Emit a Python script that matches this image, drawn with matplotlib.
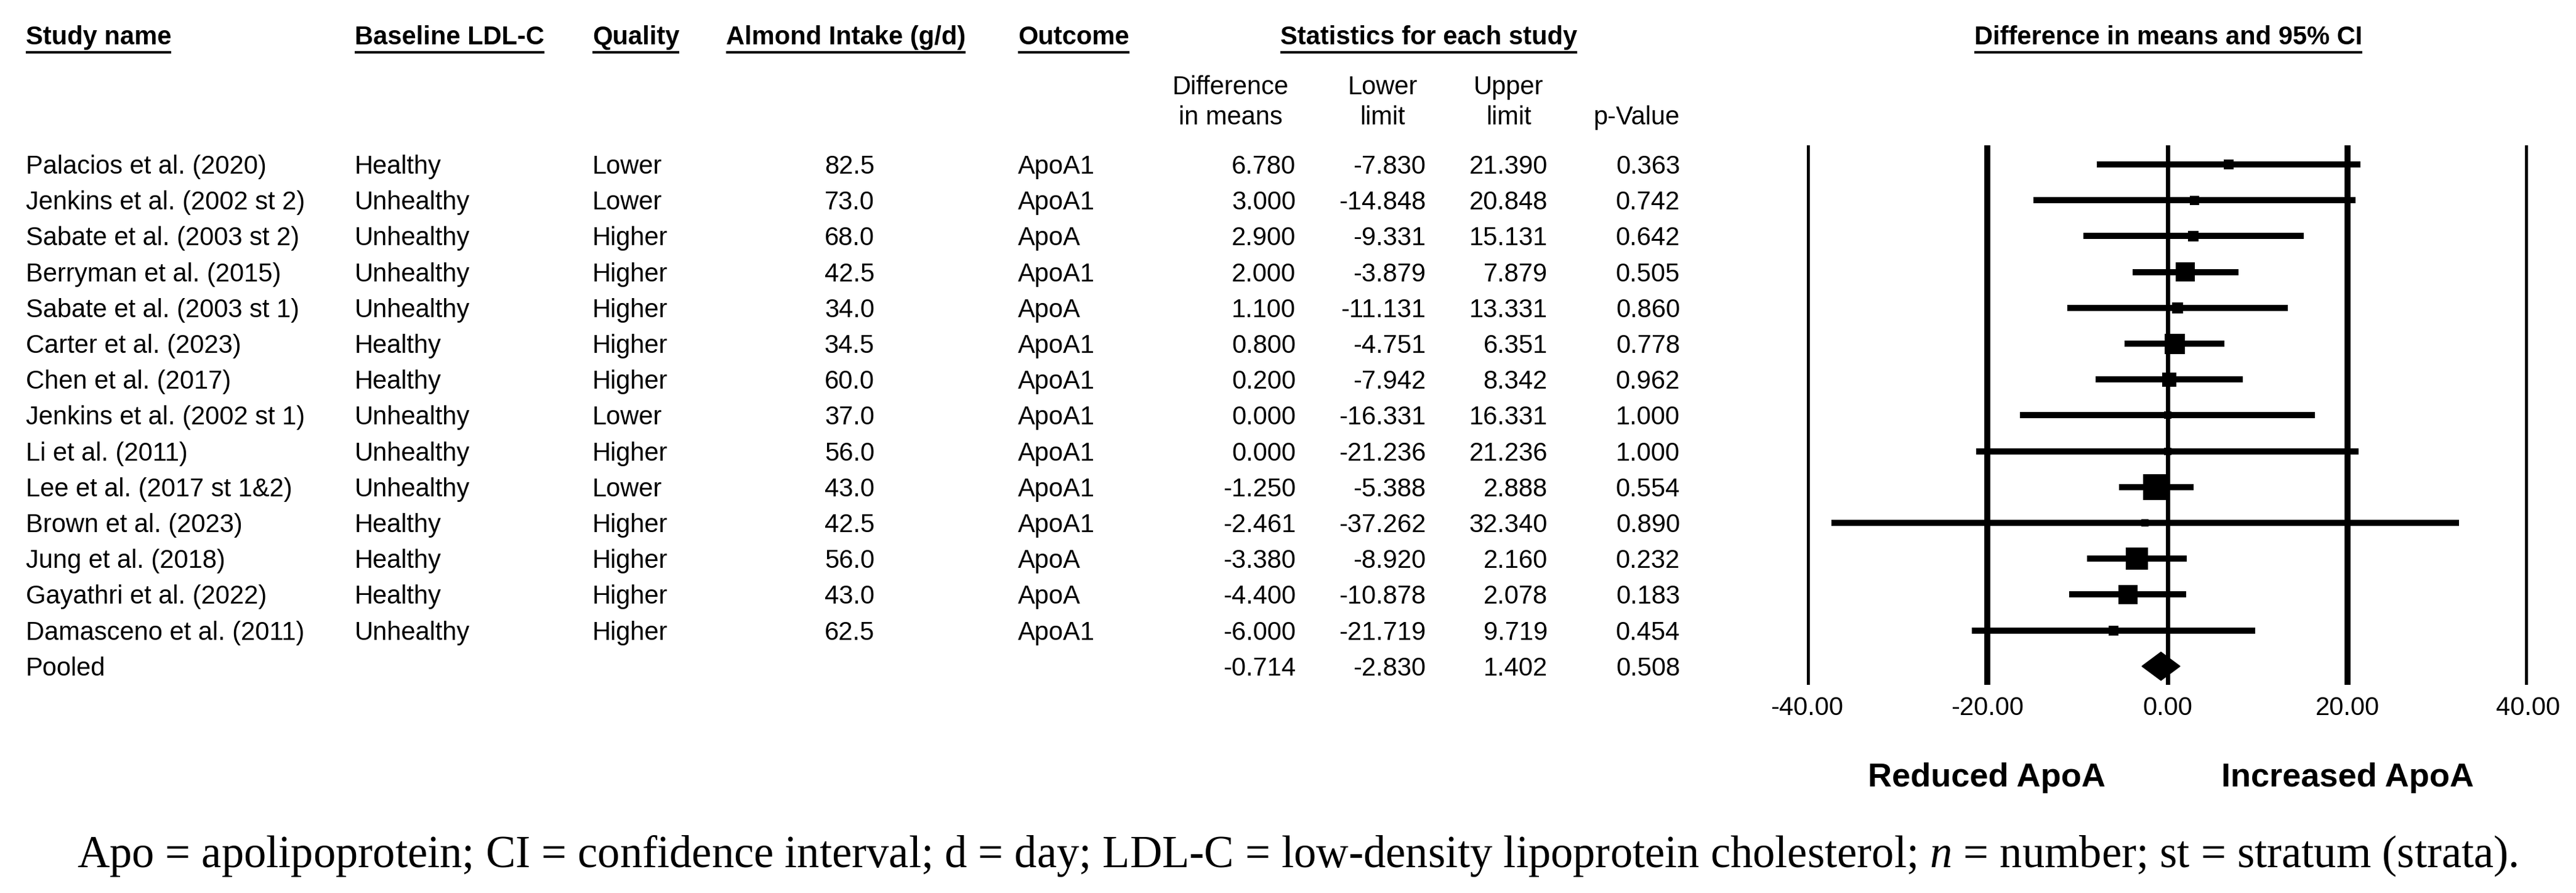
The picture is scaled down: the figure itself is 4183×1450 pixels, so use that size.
import matplotlib.pyplot as plt

plt.rcParams['font.family'] = ['Liberation Sans', 'DejaVu Sans']
plt.rcParams['mathtext.fontset'] = 'custom'
plt.rcParams['mathtext.rm'] = 'Liberation Serif'
plt.rcParams['mathtext.it'] = 'Liberation Serif:italic'

# study level data
studies = ["Palacios et al. (2020)", "Jenkins et al. (2002 st 2)", "Sabate et al. (2003 st 2)",
           "Berryman et al. (2015)", "Sabate et al. (2003 st 1)", "Carter et al. (2023)",
           "Chen et al. (2017)", "Jenkins et al. (2002 st 1)", "Li et al. (2011)",
           "Lee et al. (2017 st 1&2)", "Brown et al. (2023)", "Jung et al. (2018)",
           "Gayathri et al. (2022)", "Damasceno et al. (2011)"]
baseline = ["Healthy", "Unhealthy", "Unhealthy", "Unhealthy", "Unhealthy", "Healthy", "Healthy",
            "Unhealthy", "Unhealthy", "Unhealthy", "Healthy", "Healthy", "Healthy", "Unhealthy"]
quality = ["Lower", "Lower", "Higher", "Higher", "Higher", "Higher", "Higher",
           "Lower", "Higher", "Lower", "Higher", "Higher", "Higher", "Higher"]
intake = [82.5, 73.0, 68.0, 42.5, 34.0, 34.5, 60.0, 37.0, 56.0, 43.0, 42.5, 56.0, 43.0, 62.5]
outcome = ["ApoA1", "ApoA1", "ApoA", "ApoA1", "ApoA", "ApoA1", "ApoA1",
           "ApoA1", "ApoA1", "ApoA1", "ApoA1", "ApoA", "ApoA", "ApoA1"]
diff = [6.780, 3.000, 2.900, 2.000, 1.100, 0.800, 0.200, 0.000, 0.000, -1.250, -2.461, -3.380, -4.400, -6.000]
lower = [-7.830, -14.848, -9.331, -3.879, -11.131, -4.751, -7.942, -16.331, -21.236, -5.388, -37.262, -8.920, -10.878, -21.719]
upper = [21.390, 20.848, 15.131, 7.879, 13.331, 6.351, 8.342, 16.331, 21.236, 2.888, 32.340, 2.160, 2.078, 9.719]
pval = [0.363, 0.742, 0.642, 0.505, 0.860, 0.778, 0.962, 1.000, 1.000, 0.554, 0.890, 0.232, 0.183, 0.454]
# square side (px) ~ study weight
weight_box = [16, 15, 17, 31, 18, 33, 23, 12, 12, 42, 12, 36, 31, 16]

pooled_diff, pooled_lo, pooled_hi, pooled_p = -0.714, -2.830, 1.402, 0.508
ticks = [-40, -20, 0, 20, 40]

W, H = 4183, 1450
PX = 0.72  # points per pixel at dpi 100
FS = 30

fig = plt.figure(figsize=(W / 100, H / 100), dpi=100)
tx = fig.add_axes([0, 0, 1, 1])
tx.set_xlim(0, W)
tx.set_ylim(H, 0)
tx.axis('off')

row0, dy = 267, 58.2
rows = [row0 + dy * i for i in range(len(studies) + 1)]
base = 15  # baseline offset below row centre

# headers
headers = [("Study name", 42, 'left'), ("Baseline LDL-C", 576, 'left'), ("Quality", 962, 'left'),
           ("Almond Intake (g/d)", 1179, 'left'), ("Outcome", 1653, 'left'),
           ("Statistics for each study", 2320, 'center'),
           ("Difference in means and 95% CI", 3521, 'center')]
htexts = [tx.text(x, 72, s, ha=ha, va='baseline', fontsize=FS, fontweight='bold') for s, x, ha in headers]

sub = [("Difference", "in means", 1998, 'center'), ("Lower", "limit", 2245, 'center'),
       ("Upper", "limit", 2450, 'center'), ("", "p-Value", 2728, 'right')]
for a, b, x, ha in sub:
    tx.text(x, 153, a, ha=ha, va='baseline', fontsize=FS)
    tx.text(x, 202, b, ha=ha, va='baseline', fontsize=FS)

for i, y in enumerate(rows[:-1]):
    yb = y + base
    tx.text(42, yb, studies[i], fontsize=FS, va='baseline')
    tx.text(576, yb, baseline[i], fontsize=FS, va='baseline')
    tx.text(962, yb, quality[i], fontsize=FS, va='baseline')
    tx.text(1420, yb, f"{intake[i]:.1f}", fontsize=FS, va='baseline', ha='right')
    tx.text(1653, yb, outcome[i], fontsize=FS, va='baseline')
    tx.text(2104, yb, f"{diff[i]:.3f}", fontsize=FS, va='baseline', ha='right')
    tx.text(2315, yb, f"{lower[i]:.3f}", fontsize=FS, va='baseline', ha='right')
    tx.text(2513, yb, f"{upper[i]:.3f}", fontsize=FS, va='baseline', ha='right')
    tx.text(2728, yb, f"{pval[i]:.3f}", fontsize=FS, va='baseline', ha='right')

yp = rows[-1] + base
tx.text(42, yp, "Pooled", fontsize=FS, va='baseline')
tx.text(2104, yp, f"{pooled_diff:.3f}", fontsize=FS, va='baseline', ha='right')
tx.text(2315, yp, f"{pooled_lo:.3f}", fontsize=FS, va='baseline', ha='right')
tx.text(2513, yp, f"{pooled_hi:.3f}", fontsize=FS, va='baseline', ha='right')
tx.text(2728, yp, f"{pooled_p:.3f}", fontsize=FS, va='baseline', ha='right')

# forest panel
top, bot = 236, 1112
fa = fig.add_axes([2934 / W, 1 - bot / H, (4105 - 2934) / W, (bot - top) / H])
fa.set_xlim(-40, 40)
fa.set_ylim(bot, top)
fa.patch.set_visible(False)
for s in fa.spines.values():
    s.set_visible(False)
fa.set_yticks([])
fa.set_xticks(ticks, labels=[f"{t:.2f}" for t in ticks])
fa.tick_params(axis='x', length=0, pad=13, labelsize=FS)

for t in ticks:
    fa.axvline(t, color='black', lw=(7 if t else 5), zorder=1)

lc = fa.hlines(rows[:-1], lower, upper, color='black', lw=10 * PX, zorder=2)
lc.set_capstyle('butt')
fa.scatter(diff, rows[:-1], s=[(b * PX) ** 2 for b in weight_box], marker='s', c='black',
           linewidths=0, zorder=3)
yc = rows[-1]
fa.fill([pooled_lo, pooled_diff, pooled_hi, pooled_diff], [yc, yc - 23, yc, yc + 23],
        color='black', zorder=3)

tx.text(3226, 1277, "Reduced ApoA", ha='center', va='baseline', fontsize=39, fontweight='bold')
tx.text(3812, 1277, "Increased ApoA", ha='center', va='baseline', fontsize=39, fontweight='bold')

cap = tx.text(2107, 1408, "Apo = apolipoprotein; CI = confidence interval; d = day; LDL-C = "
              "low-density lipoprotein cholesterol; $\\mathit{n}$ = number; st = stratum (strata).",
              ha='center', va='baseline', fontsize=46, family='Liberation Serif')

# underline headers and fit caption width
fig.canvas.draw()
for t in htexts:
    bb = t.get_window_extent()
    tx.plot([bb.x0, bb.x1], [85, 85], color='black', lw=4 * PX, solid_capstyle='butt')
cw = cap.get_window_extent().width
cap.set_fontsize(46 * 3963 / cw)

fig.savefig("out.png", dpi=100)
